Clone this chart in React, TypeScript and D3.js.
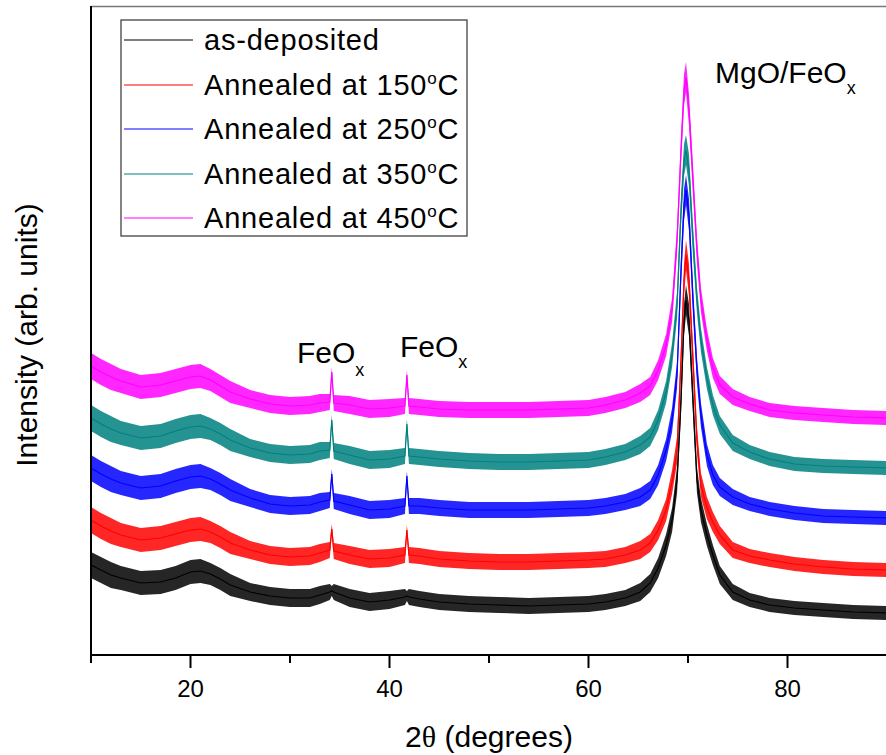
import React from "react";
import * as d3 from "d3";

// 2θ sample positions (degrees)
const TWO_THETA = [10, 11, 12, 13, 15, 17, 18.5, 20, 21, 22, 23, 24, 26, 28, 30, 32, 33, 34.0, 34.2, 34.4, 36, 38, 40, 41.55, 41.75, 41.95, 43, 45, 48, 51, 54, 57, 60, 61.7, 63.7, 65.2, 66.2, 67.0, 67.8, 68.4, 68.9, 69.3, 69.6, 69.8, 70.1, 70.5, 70.9, 71.3, 71.9, 72.5, 73.2, 74.5, 76.2, 78.2, 80.7, 83.6, 86.6, 90.2];

// stacked intensities (arb. units)
const AS_DEPOSITED = [90, 85, 80, 77, 72, 73, 77, 83, 84, 81, 76, 70, 63, 59, 57, 57, 60, 63, 64, 63, 57, 53, 55, 58, 59, 58, 56, 53, 51, 50, 49, 50, 51, 53, 57, 63, 72, 87, 110, 135, 175, 255, 335, 355, 335, 255, 175, 145, 120, 100, 80, 63, 55, 50, 47, 45, 43, 42];
const ANNEALED_150 = [135, 129, 124, 120, 115, 117, 121, 125, 126, 123, 118, 112, 105, 100, 98, 99, 102, 105, 126, 104, 100, 96, 97, 100, 125, 100, 99, 96, 94, 93, 93, 94, 95, 96, 100, 105, 112, 125, 145, 173, 205, 295, 375, 400, 375, 295, 215, 170, 147, 133, 120, 105, 99, 95, 91, 88, 86, 85];
const ANNEALED_250 = [187, 181, 176, 172, 167, 169, 174, 178, 179, 176, 171, 165, 157, 151, 149, 150, 153, 155, 181, 154, 150, 145, 146, 149, 179, 149, 149, 147, 145, 145, 145, 146, 147, 149, 153, 158, 165, 180, 205, 235, 280, 385, 450, 465, 440, 355, 285, 240, 200, 180, 168, 158, 151, 146, 142, 139, 138, 137];
const ANNEALED_350 = [237, 231, 226, 222, 217, 219, 224, 228, 229, 226, 221, 215, 207, 202, 200, 201, 204, 205, 235, 204, 200, 195, 196, 199, 231, 199, 198, 196, 194, 193, 193, 194, 195, 198, 203, 210, 218, 235, 263, 300, 350, 445, 495, 505, 485, 415, 355, 315, 277, 250, 230, 212, 203, 196, 191, 189, 188, 187];
const ANNEALED_450 = [289, 283, 278, 274, 268, 270, 274, 278, 279, 275, 269, 263, 256, 251, 249, 250, 252, 253, 283, 252, 250, 246, 247, 249, 280, 249, 248, 246, 245, 245, 245, 246, 247, 250, 255, 262, 269, 285, 310, 345, 415, 505, 565, 578, 545, 475, 405, 355, 315, 287, 270, 258, 251, 245, 242, 240, 238, 237];

// half-width of the noise band (arb. units)
const NOISE_BAND = [13, 13, 13, 12, 12, 12, 12, 12, 12, 11, 11, 11, 9, 9, 9, 9, 9, 8, 5, 8, 9, 9, 9, 8, 5, 8, 8, 8, 8, 8, 8, 8, 8, 8, 8, 9, 9, 10, 11, 12, 13, 15, 16, 15, 16, 15, 13, 12, 11, 10, 9, 8, 7, 7, 7, 7, 7, 7];

const SERIES_NAMES = ["as-deposited", "Annealed at 150", "Annealed at 250", "Annealed at 350", "Annealed at 450"];
const SERIES_VALUES = [AS_DEPOSITED, ANNEALED_150, ANNEALED_250, ANNEALED_350, ANNEALED_450];
const SERIES_COLORS = ["#000000", "#ff0000", "#0000ff", "#008080", "#ff00ff"];
const X_TICKS_MAJOR = [20, 40, 60, 80];
const X_TICKS_MINOR = [10, 30, 50, 70, 90];

const W = 886;
const H = 755;
const LEFT = 91;
const TOP = 7;
const BOTTOM = 655;

export default function App() {
  const x = d3.scaleLinear().domain([10, 90]).range([LEFT, 887]);
  const y = d3.scaleLinear().domain([0, 648]).range([BOTTOM, TOP]);

  const band = (vals: number[]) =>
    d3
      .area<number>()
      .x((_, i) => x(TWO_THETA[i]))
      .y0((d, i) => y(d - NOISE_BAND[i]))
      .y1((d, i) => y(d + NOISE_BAND[i]))(vals) || "";
  const line = (vals: number[]) =>
    d3
      .line<number>()
      .x((_, i) => x(TWO_THETA[i]))
      .y((d) => y(d))(vals) || "";

  const font = "'Liberation Sans', Arial, sans-serif";
  const order = [4, 3, 2, 1, 0];
  const legendRowsY = [40, 85, 129, 174, 218];

  return (
    <svg width={W} height={H} style={{ position: "absolute", left: 0, top: 0 }} fontFamily={font}>
      <rect x={0} y={0} width={W} height={H} fill="#fff" />
      <defs>
        <clipPath id="plot">
          <rect x={LEFT} y={TOP} width={W - LEFT} height={BOTTOM - TOP} />
        </clipPath>
      </defs>
      <g clipPath="url(#plot)">
        {order.map((k) => (
          <g key={k}>
            <path d={band(SERIES_VALUES[k])} fill={SERIES_COLORS[k]} fillOpacity={0.85} />
            <path d={line(SERIES_VALUES[k])} fill="none" stroke={SERIES_COLORS[k]} strokeWidth={1.2} />
          </g>
        ))}
      </g>

      {/* frame */}
      <line x1={LEFT} x2={W} y1={6.5} y2={6.5} stroke="#777" strokeWidth={1.5} />
      <line x1={LEFT} x2={W} y1={BOTTOM} y2={BOTTOM} stroke="#000" strokeWidth={2} />
      <line x1={LEFT} x2={LEFT} y1={6} y2={BOTTOM} stroke="#000" strokeWidth={2} />

      {X_TICKS_MAJOR.map((t) => (
        <g key={"M" + t}>
          <line x1={x(t)} x2={x(t)} y1={BOTTOM} y2={BOTTOM + 13} stroke="#000" strokeWidth={2} />
          <text x={x(t)} y={697} fontSize={24} textAnchor="middle" fill="#000">
            {t}
          </text>
        </g>
      ))}
      {X_TICKS_MINOR.map((t) => (
        <line key={"m" + t} x1={x(t)} x2={x(t)} y1={BOTTOM} y2={BOTTOM + 8} stroke="#000" strokeWidth={2} />
      ))}

      <text x={489} y={747} fontSize={30} textAnchor="middle" fill="#000">
        2<tspan fontFamily="'Liberation Serif', 'Times New Roman', serif">θ</tspan> (degrees)
      </text>
      <text
        transform="translate(37,335) rotate(-90)"
        fontSize={30}
        textAnchor="middle"
        fill="#000"
      >
        Intensity (arb. units)
      </text>

      {/* peak labels */}
      <text x={715} y={83} fontSize={30} fill="#000">
        MgO/FeO<tspan fontSize={18} dy={11}>x</tspan>
      </text>
      <text x={297} y={363} fontSize={30} fill="#000">
        FeO<tspan fontSize={18} dy={13}>x</tspan>
      </text>
      <text x={400} y={357} fontSize={30} fill="#000">
        FeO<tspan fontSize={18} dy={11}>x</tspan>
      </text>

      {/* legend */}
      <rect x={121} y={20} width={346} height={216} fill="#fff" stroke="#333" strokeWidth={1.2} />
      {SERIES_NAMES.map((name, i) => (
        <g key={name}>
          <line x1={124} x2={193} y1={legendRowsY[i]} y2={legendRowsY[i]} stroke={SERIES_COLORS[i]} strokeWidth={1.2} />
          <text x={204} y={legendRowsY[i] + 10} fontSize={29} letterSpacing={0.8} fill="#000">
            {name}
            {i > 0 ? (
              <>
                <tspan fontSize={17} dy={-11}>o</tspan>
                <tspan dy={11}>C</tspan>
              </>
            ) : null}
          </text>
        </g>
      ))}
    </svg>
  );
}
